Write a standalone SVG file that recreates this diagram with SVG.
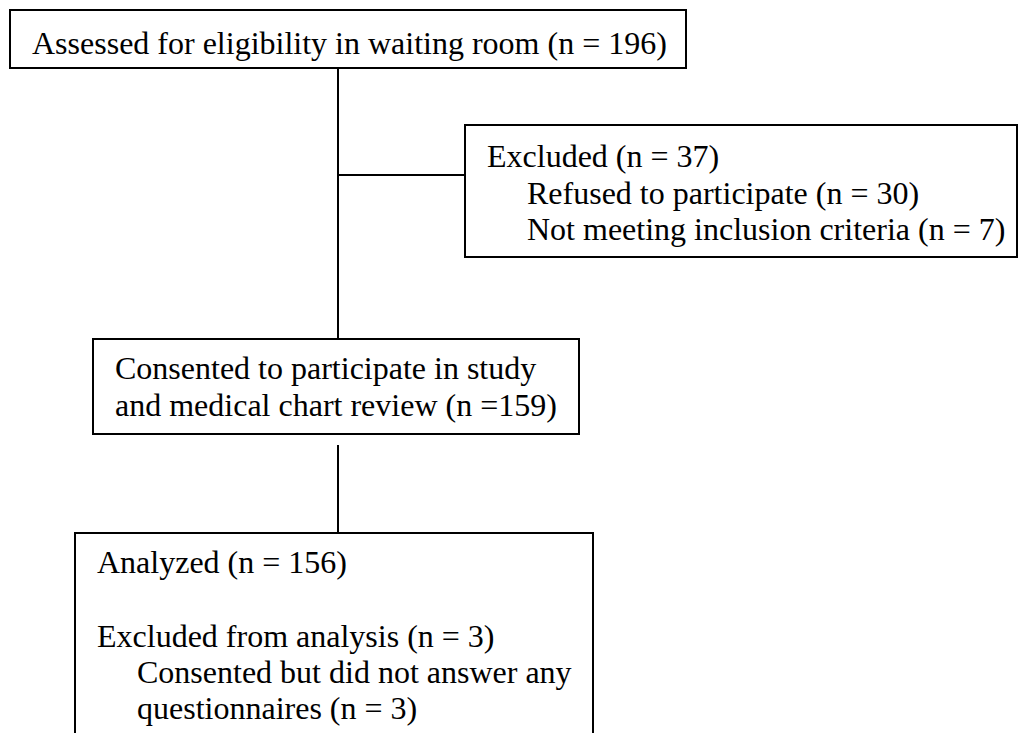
<svg xmlns="http://www.w3.org/2000/svg" width="1019" height="733" viewBox="0 0 1019 733">
<style>
.box{fill:#fff;stroke:#000;stroke-width:2}
.ln{stroke:#000;stroke-width:2;fill:none}
text{font-family:"Liberation Serif","Times New Roman",serif;font-size:32px;fill:#000}
</style>
<rect width="1019" height="733" fill="#fff"/>
<g id="connectors">
<line class="ln" x1="338" y1="68" x2="338" y2="339"/>
<line class="ln" x1="338" y1="175" x2="465" y2="175"/>
<line class="ln" x1="338" y1="445" x2="338" y2="533"/>
</g>
<g id="n1">
<rect class="box" x="10" y="10" width="676" height="58"/>
<text x="32" y="54">Assessed for eligibility in waiting room (n = 196)</text>
</g>
<g id="n2">
<rect class="box" x="465" y="125" width="552" height="132"/>
<text x="487" y="167">Excluded (n = 37)</text>
<text x="527" y="204">Refused to participate (n = 30)</text>
<text x="527" y="240">Not meeting inclusion criteria (n = 7)</text>
</g>
<g id="n3">
<rect class="box" x="93" y="339" width="486" height="95"/>
<text x="115" y="379">Consented to participate in study</text>
<text x="115" y="416">and medical chart review (n =159)</text>
</g>
<g id="n4">
<rect class="box" x="75" y="533" width="518" height="220"/>
<text x="97" y="573">Analyzed (n = 156)</text>
<text x="97" y="647">Excluded from analysis (n = 3)</text>
<text x="137" y="683">Consented but did not answer any</text>
<text x="137" y="719">questionnaires (n = 3)</text>
</g>
</svg>
